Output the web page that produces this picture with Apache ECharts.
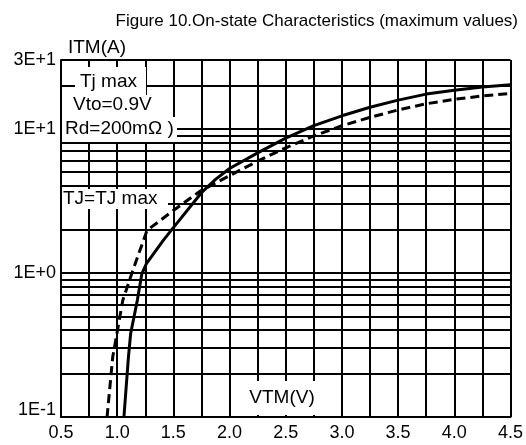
<!DOCTYPE html>
<html>
<head>
<meta charset="utf-8">
<script src="https://cdn.jsdelivr.net/npm/echarts@6/dist/echarts.min.js"></script>
<style>
  html, body { margin: 0; padding: 0; background: #fff; }
  #chart { width: 526px; height: 445px; }
</style>
</head>
<body>
<div id="chart"></div>
<script>
// On-state voltage (V) vs on-state current (A), maximum values at Tj max
const vtmSolid = [1.06, 1.10, 1.12, 1.18, 1.22, 1.26, 1.41, 1.50, 1.75, 1.875, 2.00, 2.25, 2.50, 2.75, 3.00, 3.25, 3.50, 3.75, 4.00, 4.25, 4.50];
const itmSolid = [0.10, 0.26, 0.38, 0.65, 0.99, 1.16, 1.68, 2.06, 3.60, 4.45, 5.30, 6.80, 8.60, 10.5, 12.3, 14.1, 15.8, 17.4, 18.5, 19.5, 20.2];

const vtmDashed = [0.91, 0.96, 1.05, 1.13, 1.265, 1.50, 1.74, 2.00, 2.25, 2.50, 2.75, 3.00, 3.25, 3.50, 3.75, 4.00, 4.25, 4.50];
const itmDashed = [0.10, 0.26, 0.645, 0.99, 1.97, 2.71, 3.70, 4.73, 5.96, 7.38, 8.91, 10.5, 12.0, 13.5, 14.9, 16.0, 16.9, 17.6];

// Axis ticks and labels
const xTickValues = [0.5, 1.0, 1.5, 2.0, 2.5, 3.0, 3.5, 4.0, 4.5];
const xTickLabels = ['0.5', '1.0', '1.5', '2.0', '2.5', '3.0', '3.5', '4.0', '4.5'];
const yTickValues = [0.1, 1, 10, 30];
const yTickLabels = ['1E-1', '1E+0', '1E+1', '3E+1'];
// Minor log-decade grid lines
const yMinorGrid = [0.2, 0.3, 0.4, 0.5, 0.6, 0.7, 0.8, 0.9, 2, 3, 4, 5, 6, 7, 8, 9, 20];

const FONT = '"Liberation Sans", Arial, sans-serif';
const INK = '#000';
const LABEL_SIZE = 18;
const NOTE_SIZE = 19;

function pairs(xs, ys) { return xs.map((x, i) => [x, ys[i]]); }
function indexOfTick(values, v) {
  for (let i = 0; i < values.length; i++) {
    if (Math.abs(values[i] - v) / values[i] < 1e-3) return i;
  }
  return -1;
}

const chart = echarts.init(document.getElementById('chart'), null, { renderer: 'canvas' });

const noteStyle = { fontFamily: FONT, fontSize: NOTE_SIZE, fill: INK };
function note(text, x, y, align) {
  return { type: 'text', z: 21, style: Object.assign({ text, x, y, align: align || 'center', verticalAlign: 'middle' }, noteStyle) };
}
function blank(x, y, width, height) {
  return { type: 'rect', z: 20, shape: { x, y, width, height }, style: { fill: '#fff' } };
}

chart.setOption({
  animation: false,
  backgroundColor: '#fff',
  grid: { left: 61, right: 14, top: 60, bottom: 28 },
  xAxis: {
    type: 'value', min: 0.5, max: 4.5, interval: 0.25,
    axisLine: { show: true, lineStyle: { color: INK, width: 2 } },
    axisTick: { show: false },
    axisLabel: {
      color: INK, fontFamily: FONT, fontSize: LABEL_SIZE, margin: 7,
      formatter: v => { const i = indexOfTick(xTickValues, v); return i < 0 ? '' : xTickLabels[i]; }
    },
    splitLine: { show: true, lineStyle: { color: INK, width: 2 } }
  },
  yAxis: {
    type: 'log', logBase: 10, min: 0.1, max: 30,
    axisLine: { show: true, lineStyle: { color: INK, width: 2 } },
    axisTick: { show: false },
    axisLabel: {
      color: INK, fontFamily: FONT, fontSize: LABEL_SIZE, margin: 5,
      formatter: v => {
        const i = indexOfTick(yTickValues, v);
        if (i < 0) return '';
        // the lowest label is lifted clear of the x-axis labels
        return i === 0 ? '{low|' + yTickLabels[i] + '}' : yTickLabels[i];
      },
      rich: { low: { fontFamily: FONT, fontSize: LABEL_SIZE, color: INK, padding: [0, 0, 14, 0] } }
    },
    splitLine: { show: true, lineStyle: { color: INK, width: 2 } }
  },
  series: [
    {
      name: 'grid', type: 'line', data: [], z: 1, silent: true,
      markLine: {
        silent: true, symbol: ['none', 'none'], label: { show: false },
        lineStyle: { color: INK, width: 2, type: 'solid' },
        data: yMinorGrid.map(v => ({ yAxis: v }))
      }
    },
    {
      name: 'Tj max', type: 'line', z: 5, showSymbol: false,
      data: pairs(vtmSolid, itmSolid),
      lineStyle: { color: INK, width: 3 }
    },
    {
      name: 'TJ=TJ max', type: 'line', z: 5, showSymbol: false,
      data: pairs(vtmDashed, itmDashed),
      lineStyle: { color: INK, width: 3, type: [9, 5] }
    }
  ],
  graphic: [
    { type: 'text', z: 21, style: { text: 'Figure 10.On-state Characteristics (maximum values)', x: 518, y: 21, align: 'right', verticalAlign: 'middle', fontFamily: FONT, fontSize: 17, fill: INK } },
    note('ITM(A)', 97, 48),
    // parameter panel
    blank(75, 67, 71, 28),
    blank(62, 95, 98, 22),
    blank(62, 117, 115, 25),
    note('Tj max', 80, 82, 'left'),
    note('Vto=0.9V', 73, 105, 'left'),
    note('Rd=200mΩ )', 65, 129, 'left'),
    // dashed curve label
    blank(62, 189, 106, 20),
    note('TJ=TJ max', 63, 199, 'left'),
    // x-axis title
    blank(246, 381, 72, 34),
    note('VTM(V)', 282, 398)
  ]
});
</script>
</body>
</html>
